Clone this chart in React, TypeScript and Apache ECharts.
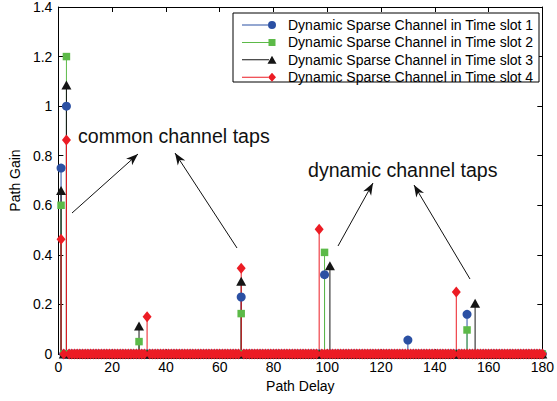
import React, { useEffect, useRef } from "react";
import * as echarts from "echarts";

// Path delay axis (taps 1..180)
const delays: number[] = Array.from({ length: 180 }, (_, i) => i + 1);

// Non-zero taps of each time slot (all other delays have gain 0)
const slot1Delays = [1, 3, 68, 99, 130, 152];
const slot1Gains = [0.75, 1.0, 0.23, 0.32, 0.056, 0.16];
const slot2Delays = [1, 3, 30, 68, 99, 152];
const slot2Gains = [0.6, 1.2, 0.05, 0.163, 0.41, 0.097];
const slot3Delays = [1, 3, 30, 68, 101, 155];
const slot3Gains = [0.66, 1.085, 0.113, 0.294, 0.356, 0.205];
const slot4Delays = [1, 3, 33, 68, 97, 148];
const slot4Gains = [0.463, 0.863, 0.15, 0.346, 0.503, 0.25];

const seriesNames = [
  "Dynamic Sparse Channel in Time slot 1",
  "Dynamic Sparse Channel in Time slot 2",
  "Dynamic Sparse Channel in Time slot 3",
  "Dynamic Sparse Channel in Time slot 4",
];

const xMin = 0, xMax = 180, xStep = 20;
const yMin = 0, yMax = 1.4, yStep = 0.2;

const FONT = "'Liberation Sans', Arial, Helvetica, sans-serif";

const colors = ["#2b50a3", "#5cba48", "#151515", "#ec1c24"];
const symbols = ["circle", "rect", "triangle", "diamond"];
const symbolSizes: any[] = [9, 7.5, [10, 9], [9, 11]];

const pad = "M0,0 L0,0 Z M41,10 L41,10 Z ";
const legendIcons = [
  "path://" + pad + "M0,4.5 L26,4.5 L26,5.5 L0,5.5 Z M34,5 A4,4 0 1,1 26,5 A4,4 0 1,1 34,5 Z",
  "path://" + pad + "M0,4.5 L26.5,4.5 L26.5,5.5 L0,5.5 Z M26.5,1.5 L33.5,1.5 L33.5,8.5 L26.5,8.5 Z",
  "path://" + pad + "M0,4.5 L27,4.5 L27,5.5 L0,5.5 Z M30,1 L34.5,9 L25.5,9 Z",
  "path://" + pad + "M0,4.5 L26,4.5 L26,5.5 L0,5.5 Z M30,0.5 L34,5 L30,9.5 L26,5 Z",
];

// annotations (pixel layout)
const annotationTexts = [
  { text: "common channel taps", x: 78, y: 136 },
  { text: "dynamic channel taps", x: 308, y: 170 },
];
const arrows = [
  { from: [72, 213], to: [138, 154] },
  { from: [237, 248], to: [175, 153] },
  { from: [338, 246], to: [373, 183] },
  { from: [470, 279], to: [414, 185] },
];

function buildSlot(d: number[], g: number[]) {
  return delays.map((x) => {
    const k = d.indexOf(x);
    return [x, k >= 0 ? g[k] : 0];
  });
}

const slotData = [
  buildSlot(slot1Delays, slot1Gains),
  buildSlot(slot2Delays, slot2Gains),
  buildSlot(slot3Delays, slot3Gains),
  buildSlot(slot4Delays, slot4Gains),
];

function arrowHead(from: number[], to: number[]) {
  const dx = to[0] - from[0];
  const dy = to[1] - from[1];
  const len = Math.sqrt(dx * dx + dy * dy);
  const ux = dx / len, uy = dy / len;
  const px = -uy, py = ux;
  const L = 12, W = 4.5, notch = 8.5;
  const bx = to[0] - ux * L, by = to[1] - uy * L;
  const nx = to[0] - ux * notch, ny = to[1] - uy * notch;
  return [
    [to[0], to[1]],
    [bx + px * W, by + py * W],
    [nx, ny],
    [bx - px * W, by - py * W],
  ];
}

export default function App() {
  const ref = useRef<HTMLDivElement>(null);

  useEffect(() => {
    if (!ref.current) return;
    const chart = echarts.init(ref.current, undefined, { renderer: "svg" });

    const series: any[] = [];
    slotData.forEach((data, i) => {
      series.push({
        type: "custom",
        name: seriesNames[i] + " stems",
        data,
        silent: true,
        renderItem: (params: any, api: any) => {
          const x = api.value(0);
          const y = api.value(1);
          if (!y) return null;
          const p0 = api.coord([x, 0]);
          const p1 = api.coord([x, y]);
          return {
            type: "line",
            shape: { x1: p0[0], y1: p0[1], x2: p1[0], y2: p1[1] },
            style: { stroke: colors[i], lineWidth: 1 },
          };
        },
      });
      series.push({
        type: "scatter",
        name: seriesNames[i],
        data,
        symbol: symbols[i],
        symbolSize: symbolSizes[i],
        itemStyle: { color: colors[i], opacity: 1 },
        silent: true,
        emphasis: { disabled: true },
      });
    });

    const graphic: any[] = [
      {
        type: "rect",
        z: 3,
        shape: { x: 233, y: 13, width: 306, height: 69 },
        style: { fill: "#ffffff", stroke: "#000000", lineWidth: 1 },
      },
    ];
    annotationTexts.forEach((a) => {
      graphic.push({
        type: "text",
        z: 10,
        x: a.x,
        y: a.y,
        style: {
          text: a.text,
          fontSize: 19.6,
          fontFamily: FONT,
          fill: "#111111",
          align: "left",
          verticalAlign: "middle",
        },
      });
    });
    arrows.forEach((a) => {
      graphic.push({
        type: "line",
        z: 10,
        shape: { x1: a.from[0], y1: a.from[1], x2: a.to[0], y2: a.to[1] },
        style: { stroke: "#111111", lineWidth: 1 },
      });
      graphic.push({
        type: "polygon",
        z: 10,
        shape: { points: arrowHead(a.from, a.to) },
        style: { fill: "#111111" },
      });
    });

    const axisCommon = {
      axisLine: { show: true, onZero: false, lineStyle: { color: "#000", width: 1 } },
      axisTick: { show: true, inside: true, length: 5, lineStyle: { color: "#000" } },
      splitLine: { show: false },
    };

    chart.setOption({
      animation: false,
      textStyle: { fontFamily: FONT },
      grid: { left: 54, right: 11, top: 7, bottom: 47, containLabel: false },
      legend: {
        show: true,
        orient: "vertical",
        left: 242,
        top: 18,
        padding: 0,
        itemGap: 3.4,
        itemWidth: 41,
        itemHeight: 10,
        selectedMode: false,
        z: 5,
        textStyle: { fontSize: 14, color: "#000", fontFamily: FONT, padding: [0, 0, 0, 0] },
        data: seriesNames.map((n, i) => ({ name: n, icon: legendIcons[i] })),
      },
      xAxis: [
        {
          type: "value",
          position: "bottom",
          min: xMin,
          max: xMax,
          interval: xStep,
          name: "Path Delay",
          nameLocation: "middle",
          nameGap: 21,
          nameTextStyle: { fontSize: 14, color: "#000", fontFamily: FONT },
          axisLabel: { fontSize: 14, color: "#000", margin: 6, fontFamily: FONT },
          ...axisCommon,
        },
        {
          type: "value",
          position: "top",
          min: xMin,
          max: xMax,
          interval: xStep,
          axisLabel: { show: false },
          ...axisCommon,
        },
      ],
      yAxis: [
        {
          type: "value",
          position: "left",
          min: yMin,
          max: yMax,
          interval: yStep,
          name: "Path Gain",
          nameLocation: "middle",
          nameGap: 32,
          nameTextStyle: { fontSize: 14, color: "#000", fontFamily: FONT },
          axisLabel: { fontSize: 14, color: "#000", margin: 6, fontFamily: FONT },
          ...axisCommon,
        },
        {
          type: "value",
          position: "right",
          min: yMin,
          max: yMax,
          interval: yStep,
          axisLabel: { show: false },
          ...axisCommon,
        },
      ],
      graphic,
      series,
    });

    return () => chart.dispose();
  }, []);

  return (
    <div
      ref={ref}
      style={{ position: "absolute", left: 0, top: 0, width: 557, height: 401, background: "#fff" }}
    />
  );
}
